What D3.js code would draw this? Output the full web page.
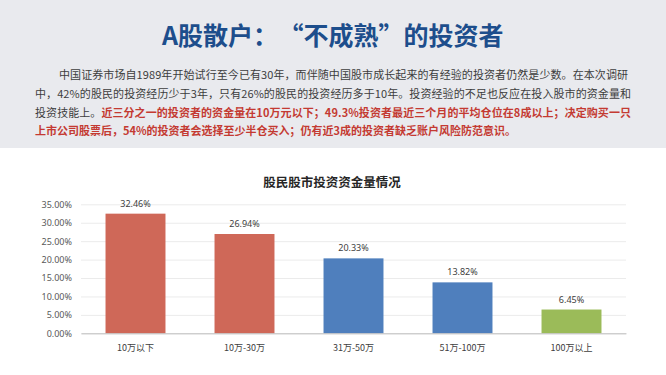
<!DOCTYPE html>
<html><head><meta charset="utf-8">
<script src="https://cdn.jsdelivr.net/npm/d3@7"></script>
<style>
html,body{margin:0;padding:0;background:#fff;}
svg{display:block;font-family:"Noto Sans CJK SC","Noto Sans",sans-serif;}
</style></head>
<body>
<svg id="c" width="666" height="375"></svg>
<script>
const titleParts = ["A股散户：", "“不成熟”", "的投资者"];
const paraLines = [
  [{t:"中国证券市场自1989年开始试行至今已有30年，而伴随中国股市成长起来的有经验的投资者仍然是少数。在本次调研", red:false}],
  [{t:"中，42%的股民的投资经历少于3年，只有26%的股民的投资经历多于10年。投资经验的不足也反应在投入股市的资金量和", red:false}],
  [{t:"投资技能上。", red:false},{t:"近三分之一的投资者的资金量在10万元以下；49.3%投资者最近三个月的平均仓位在8成以上；决定购买一只", red:true}],
  [{t:"上市公司股票后，54%的投资者会选择至少半仓买入；仍有近3成的投资者缺乏账户风险防范意识。", red:true}]
];
const chartTitle = "股民股市投资资金量情况";
const categories = ["10万以下","10万-30万","31万-50万","51万-100万","100万以上"];
const values = [32.46, 26.94, 20.33, 13.82, 6.45];
const barColors = ["#cf6858","#cf6858","#4f7fbd","#4f7fbd","#9bbb59"];
const yTicks = [0,5,10,15,20,25,30,35];

const svg = d3.select("#c");
// header background
svg.append("rect").attr("x",0).attr("y",0).attr("width",666).attr("height",148).attr("fill","#e9eaee");
const tt = svg.append("text").attr("x",162).attr("y",45)
  .attr("font-size",25).attr("font-weight","bold").attr("fill","#1d4e8c");
tt.append("tspan").text(titleParts[0]);
tt.append("tspan").attr("dx",13).text(titleParts[1]);
tt.append("tspan").attr("dx",0).text(titleParts[2]);

const lineY = [79, 98, 116.5, 135];
const lineX = [59, 35, 35, 35];
const lineLen = [569, 596, 596, null];
paraLines.forEach((segs,i)=>{
  const t = svg.append("text").attr("x",lineX[i]).attr("y",lineY[i]).attr("font-size",11);
  if(lineLen[i]) t.attr("textLength",lineLen[i]).attr("lengthAdjust","spacing");
  segs.forEach(s=>{
    t.append("tspan").attr("fill", s.red ? "#c43a32" : "#3d3d3d")
      .attr("font-weight", s.red ? "bold" : "normal").text(s.t);
  });
});

// chart
const x = d3.scaleBand().domain(categories).range([81,626]).paddingInner(0.45).paddingOuter(0.225);
const y = d3.scaleLinear().domain([0,35]).range([333.3,204.3]);

svg.append("text").attr("x",332).attr("y",187).attr("text-anchor","middle")
  .attr("font-size",12.5).attr("font-weight","bold").attr("fill","#262626").text(chartTitle);

const yAxis = d3.axisLeft(y).tickValues(yTicks).tickSize(-(626-81)).tickPadding(9)
  .tickFormat(d=>d3.format(".2f")(d)+"%");
const gy = svg.append("g").attr("transform","translate(81,0)").call(yAxis);
gy.select(".domain").remove();
gy.selectAll(".tick line").attr("stroke","#ebebeb");
gy.selectAll(".tick text").attr("fill","#595959").attr("font-size",9)
  .attr("font-family","'Noto Sans',sans-serif");

svg.selectAll("rect.bar").data(values).enter().append("rect").attr("class","bar")
  .attr("x",(d,i)=>x(categories[i])).attr("width",x.bandwidth())
  .attr("y",d=>y(d)).attr("height",d=>y(0)-y(d)).attr("fill",(d,i)=>barColors[i]);

svg.selectAll("text.val").data(values).enter().append("text").attr("class","val")
  .attr("x",(d,i)=>x(categories[i])+x.bandwidth()/2).attr("y",d=>y(d)-7)
  .attr("text-anchor","middle").attr("font-size",9).attr("fill","#404040")
  .attr("font-family","'Noto Sans',sans-serif")
  .text(d=>d3.format(".2f")(d)+"%");

const xAxis = d3.axisBottom(x).tickSize(0).tickPadding(11);
const gx = svg.append("g").attr("transform",`translate(0,${y(0)})`).call(xAxis);
gx.select(".domain").attr("stroke","#bfbfbf");
gx.selectAll(".tick text").attr("fill","#404040").attr("font-size",9)
  .attr("font-family","'Noto Sans CJK SC',sans-serif");
</script>
</body></html>
